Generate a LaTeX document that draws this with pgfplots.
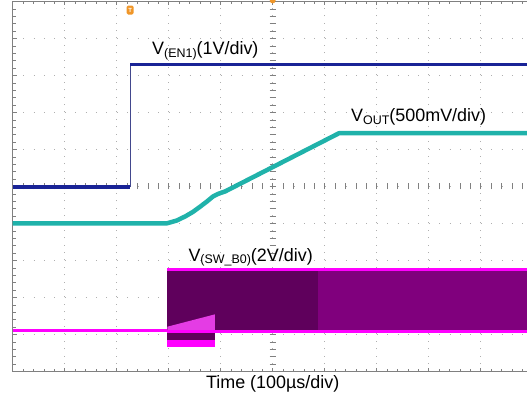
\documentclass[border=0pt]{standalone}
\usepackage{pgfplots}
\pgfplotsset{compat=1.18}
\usepackage{fontspec}
\setmainfont{Liberation Sans}
\definecolor{enblue}{RGB}{25,35,150}
\definecolor{outcyan}{RGB}{32,178,170}
\definecolor{swmag}{RGB}{255,0,255}
\definecolor{swdark}{RGB}{95,0,92}
\definecolor{swmid}{RGB}{128,0,125}
\definecolor{swlight}{RGB}{228,60,228}
\definecolor{gridgray}{RGB}{175,175,175}
\definecolor{trigorange}{RGB}{240,150,40}
\newcommand{\lbl}[2]{#1\raisebox{-2.5bp}{\fontsize{12.5}{13}\selectfont #2}}
\begin{document}
\begin{tikzpicture}
\begin{axis}[
 at={(12.7bp,26.5bp)}, anchor=south west,
 scale only axis, width=520bp, height=370bp,
 xmin=0, xmax=10, ymin=0, ymax=10,
 xtick={0,...,10}, ytick={0,...,10},
 xticklabels={}, yticklabels={},
 minor x tick num=4, minor y tick num=4,
 tick align=inside, major tick length=4bp, minor tick length=3bp,
 tick style={gray, line width=0.6bp},
 grid=major,
 x grid style={gridgray, line width=1.1bp, dash pattern=on 1.1bp off 6.3bp},
 y grid style={gridgray, line width=1.1bp, dash pattern=on 1.1bp off 9.3bp},
 axis line style={gray, line width=0.8bp},
 clip mode=individual,
]
% centre graticule ticks
\pgfplotsinvokeforeach{0.2,0.4,...,9.8}{
  \draw[gray, line width=0.6bp] (axis cs:#1,5) ++(0,-3bp) -- ++(0,6bp);
  \draw[gray, line width=0.6bp] (axis cs:5,#1) ++(-3bp,0) -- ++(6bp,0);
}
% SW_B0 switching band
\addplot[draw=none, fill=swdark] coordinates {(2.973,1.04) (5.87,1.04) (5.87,2.80) (2.973,2.80)} --cycle;
\addplot[draw=none, fill=swmid] coordinates {(5.87,1.04) (10,1.04) (10,2.80) (5.87,2.80)} --cycle;
\addplot[draw=none, fill=swdark] coordinates {(2.973,0.66) (3.89,0.66) (3.89,1.08) (2.973,1.08)} --cycle;
\addplot[draw=none, fill=swmag] coordinates {(2.973,0.66) (3.89,0.66) (3.89,0.84) (2.973,0.84)} --cycle;
\addplot[draw=none, fill=swlight] coordinates {(2.973,1.05) (3.89,1.05) (3.89,1.545) (2.973,1.21)} --cycle;
\addplot[swmag, line width=3bp] coordinates {(2.973,2.76) (10,2.76)};
\addplot[swmag, line width=3bp] coordinates {(2.973,1.08) (10,1.08)};
\addplot[swmag, line width=3bp] coordinates {(0,1.095) (2.973,1.095)};
% VOUT
\addplot[outcyan, line width=4.5bp, line join=round] coordinates {(0,4.0) (2.967,4.005) (3.154,4.08) (3.33,4.20) (3.473,4.32) (3.60,4.45) (3.731,4.59) (3.852,4.73) (3.948,4.80) (4.083,4.865) (6.275,6.44) (10,6.44)};
% EN1
\addplot[enblue, line width=3.5bp] coordinates {(0,4.98) (2.256,4.98)};
\addplot[enblue!60!gray, line width=0.8bp] coordinates {(2.256,4.98) (2.256,8.30)};
\addplot[enblue, line width=3.5bp] coordinates {(2.256,8.30) (10,8.30)};
% labels
\node[anchor=base west, font=\fontsize{18}{20}\selectfont, inner sep=0] at (axis cs:2.679,8.554) {\lbl{V}{(EN1)}(1V/div)};
\node[anchor=base west, font=\fontsize{18}{20}\selectfont, inner sep=0] at (axis cs:6.506,6.751) {\lbl{V}{OUT}(500mV/div)};
\node[anchor=base west, font=\fontsize{18}{20}\selectfont, inner sep=0] at (axis cs:3.377,2.986) {\lbl{V}{(SW\_B0)}(2V/div)};
\node[anchor=base, font=\fontsize{18}{20}\selectfont, inner sep=0] at (axis cs:5,-0.446) {Time (100µs/div)};
% trigger markers
\node[fill=trigorange, rounded corners=1.5bp, minimum width=7bp, minimum height=9bp, inner sep=0, text=white, font=\fontsize{6}{6}\selectfont\bfseries] at (axis cs:2.258,9.77) {T};
\node[fill=trigorange, circle, minimum size=6bp, inner sep=0] at (axis cs:5,10.03) {};
\end{axis}
\pgfresetboundingbox
\path[use as bounding box] (0,0) rectangle (527bp,398bp);
\end{tikzpicture}
\end{document}
